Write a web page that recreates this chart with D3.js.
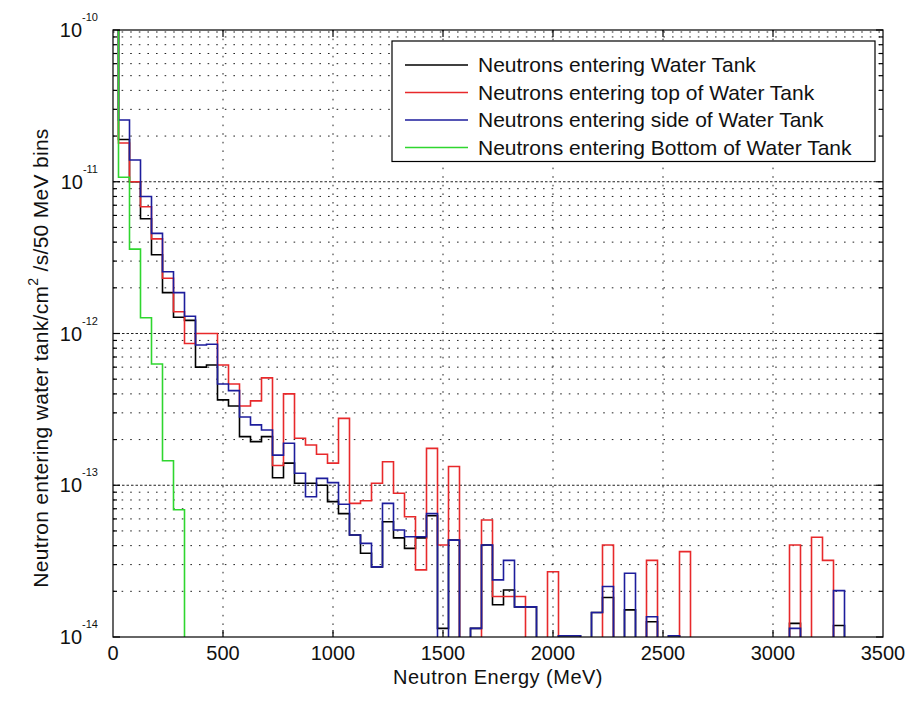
<!DOCTYPE html>
<html><head><meta charset="utf-8">
<script src="https://cdn.jsdelivr.net/npm/d3@7"></script>
<style>body{margin:0;background:#fff} text{font-family:"Liberation Sans",Arial,sans-serif;fill:#111}</style>
</head><body><svg id="c" width="923" height="704"></svg>
<script>
// bin centres (MeV), 50 MeV bins
const energies = [0,50,100,150,200,250,300,350,400,450,500,550,600,650,700,750,800,850,900,950,
  1000,1050,1100,1150,1200,1250,1300,1350,1400,1450,1500,1550,1600,1650,1700,1750,1800,1850,1900,1950,
  2000,2050,2100,2150,2200,2250,2300,2350,2400,2450,2500,2550,2600,2650,2700,2750,2800,2850,2900,2950,
  3000,3050,3100,3150,3200,3250,3300,3350];
const seriesNames = ["Neutrons entering Water Tank","Neutrons entering top of Water Tank",
  "Neutrons entering side of Water Tank","Neutrons entering Bottom of Water Tank"];
const seriesColors = ["#000000","#e8292b","#1d1d9c","#2fd62f"];
const totalTank = [1.5e-10,1.9e-11,1.0e-11,5.7e-12,3.3e-12,1.86e-12,1.28e-12,1.22e-12,6.0e-13,6.2e-13,
  3.65e-13,3.33e-13,2.09e-13,1.94e-13,2.09e-13,1.12e-13,1.4e-13,1.03e-13,1.03e-13,1.0e-13,
  7.8e-14,6.5e-14,4.7e-14,3.56e-14,2.9e-14,5.75e-14,4.5e-14,3.84e-14,4.5e-14,6.3e-14,
  1.14e-14,4.35e-14,0,1.14e-14,4.04e-14,1.63e-14,2.04e-14,1.58e-14,1.58e-14,0,
  0,1.02e-14,1.02e-14,0,1.45e-14,1.82e-14,0,1.51e-14,0,1.26e-14,
  0,1.02e-14,0,0,0,0,0,0,0,0,
  0,0,1.23e-14,0,0,0,1.19e-14,0];
const topTank = [1.2e-10,1.8e-11,1.0e-11,6.85e-12,4.2e-12,2.31e-12,1.39e-12,8.6e-13,1.0e-12,1.0e-12,
  6.2e-13,4.65e-13,3.33e-13,3.6e-13,5.1e-13,1.35e-13,4.0e-13,2.04e-13,1.84e-13,1.6e-13,
  1.4e-13,2.76e-13,7.6e-14,7.9e-14,1.03e-13,1.43e-13,8.85e-14,6.2e-14,2.77e-14,1.75e-13,
  4.04e-14,1.33e-13,0,0,5.9e-14,1.85e-14,1.85e-14,1.85e-14,0,0,
  2.69e-14,0,0,0,0,4.04e-14,0,0,0,3.2e-14,
  0,0,3.65e-14,0,0,0,0,0,0,0,
  0,0,4.04e-14,0,4.54e-14,3.2e-14,0,0];
const sideTank = [1.8e-10,2.55e-11,1.39e-11,8.0e-12,4.57e-12,2.55e-12,1.86e-12,1.3e-12,8.4e-13,8.5e-13,
  4.65e-13,4.2e-13,2.82e-13,2.5e-13,2.31e-13,1.58e-13,1.89e-13,1.2e-13,8.4e-14,1.11e-13,
  1.04e-13,7.5e-14,4.7e-14,4.14e-14,2.9e-14,7.6e-14,5.07e-14,4.58e-14,4.58e-14,6.5e-14,
  0,4.35e-14,0,1.14e-14,4.04e-14,2.38e-14,3.2e-14,1.58e-14,1.58e-14,0,
  0,1.02e-14,1.02e-14,0,1.45e-14,2.15e-14,0,2.63e-14,0,1.36e-14,
  0,1.02e-14,0,0,0,0,0,0,0,0,
  0,0,1.14e-14,0,0,0,2.02e-14,0];
const bottomTank = [3e-10,1.07e-11,3.6e-12,1.27e-12,6.3e-13,1.45e-13,6.9e-14,0,0,0,
  0,0,0,0,0,0,0,0,0,0, 0,0,0,0,0,0,0,0,0,0, 0,0,0,0,0,0,0,0,0,0,
  0,0,0,0,0,0,0,0,0,0, 0,0,0,0,0,0,0,0,0,0, 0,0,0,0,0,0,0,0];
const xTicks = [0,500,1000,1500,2000,2500,3000,3500];
const yDecades = [-14,-13,-12,-11,-10];
const xTitle = "Neutron Energy (MeV)";

const svg = d3.select("#c");
const L=113,T=30,R=883,B=637;
const x = d3.scaleLinear().domain([0,3500]).range([L,R]);
const y = d3.scaleLog().domain([1e-14,1e-10]).range([B,T]);
const binW = 50;

svg.append("defs").append("clipPath").attr("id","clip")
  .append("rect").attr("x",L).attr("y",T).attr("width",R-L).attr("height",B-T);

// grid
const g = svg.append("g");
const minorVals = [];
yDecades.slice(0,-1).forEach(d=>{for(let m=2;m<=9;m++) minorVals.push(m*Math.pow(10,d));});
g.selectAll(".ym").data(minorVals).join("line")
  .attr("x1",L).attr("x2",R).attr("y1",d=>y(d)).attr("y2",d=>y(d))
  .attr("stroke","#222").attr("stroke-width",1).attr("stroke-dasharray","1.6,7");
g.selectAll(".yM").data(yDecades.slice(1,-1)).join("line")
  .attr("x1",L).attr("x2",R).attr("y1",d=>y(Math.pow(10,d))).attr("y2",d=>y(Math.pow(10,d)))
  .attr("stroke","#222").attr("stroke-width",1).attr("stroke-dasharray","2.5,2");
g.selectAll(".xg").data(xTicks.slice(1,-1)).join("line")
  .attr("x1",d=>x(d)).attr("x2",d=>x(d)).attr("y1",T).attr("y2",B)
  .attr("stroke","#222").attr("stroke-width",1).attr("stroke-dasharray","1.6,7");
g.append("line").attr("x1",L).attr("x2",R).attr("y1",T+2).attr("y2",T+2)
  .attr("stroke","#222").attr("stroke-width",1).attr("stroke-dasharray","1.6,7");

// stairs
const allSeries = [totalTank, topTank, sideTank, bottomTank];
const line = d3.line().curve(d3.curveStepAfter).x(d=>x(d[0])).y(d=>y(d[1]));
const plot = svg.append("g").attr("clip-path","url(#clip)");
allSeries.forEach((vals,si)=>{
  const pts = energies.map((e,i)=>[e-binW/2, vals[i]>0?vals[i]:1e-18]);
  pts.push([energies[energies.length-1]+binW/2, 1e-18]);
  plot.append("path").attr("d",line(pts)).attr("fill","none")
    .attr("stroke",seriesColors[si]).attr("stroke-width",1.6);
});

// axes box + ticks
const ax = svg.append("g").attr("stroke","#000").attr("stroke-width",1.2);
ax.append("rect").attr("x",L).attr("y",T).attr("width",R-L).attr("height",B-T).attr("fill","none");
xTicks.slice(1,-1).forEach(t=>{
  ax.append("line").attr("x1",x(t)).attr("x2",x(t)).attr("y1",B).attr("y2",B-7);
  ax.append("line").attr("x1",x(t)).attr("x2",x(t)).attr("y1",T).attr("y2",T+7);
});
yDecades.forEach(d=>{
  const v=y(Math.pow(10,d));
  ax.append("line").attr("x1",L).attr("x2",L+7).attr("y1",v).attr("y2",v);
  ax.append("line").attr("x1",R).attr("x2",R-7).attr("y1",v).attr("y2",v);
});
minorVals.forEach(m=>{
  const v=y(m);
  ax.append("line").attr("x1",L).attr("x2",L+4).attr("y1",v).attr("y2",v);
  ax.append("line").attr("x1",R).attr("x2",R-4).attr("y1",v).attr("y2",v);
});

// tick labels
svg.selectAll(".xl").data(xTicks).join("text")
  .attr("x",d=>x(d)).attr("y",B+23).attr("text-anchor","middle")
  .attr("font-size",20).text(d=>d);
yDecades.forEach(d=>{
  const t = svg.append("text").attr("x",L-15).attr("y",y(Math.pow(10,d))+7)
    .attr("text-anchor","end").attr("font-size",20);
  t.append("tspan").text("10");
  t.append("tspan").attr("font-size",11).attr("dy",-16).text(String(d));
});

// axis titles
svg.append("text").attr("x",(L+R)/2).attr("y",684).attr("text-anchor","middle")
  .attr("font-size",20).attr("letter-spacing",0.5).text(xTitle);
const yt = svg.append("text").attr("transform",`translate(48,358) rotate(-90)`)
  .attr("text-anchor","middle").attr("font-size",21).attr("letter-spacing",0.3);
yt.append("tspan").text("Neutron entering water tank/cm");
yt.append("tspan").attr("font-size",14).attr("dy",-10).text("2");
yt.append("tspan").attr("dy",10).text(" /s/50 MeV bins");

// legend
const lg = svg.append("g");
const lx=392, ly=41, lw=483, rowH=27.5;
lg.append("rect").attr("x",lx).attr("y",ly).attr("width",lw).attr("height",rowH*3+38)
  .attr("fill","#fff").attr("stroke","#000").attr("stroke-width",1.2);
seriesNames.forEach((n,i)=>{
  const cy = ly+24+i*rowH;
  lg.append("line").attr("x1",lx+13).attr("x2",lx+76).attr("y1",cy).attr("y2",cy)
    .attr("stroke",seriesColors[i]).attr("stroke-width",1.6);
  lg.append("text").attr("x",lx+86).attr("y",cy+7).attr("font-size",21).text(n);
});
</script></body></html>
